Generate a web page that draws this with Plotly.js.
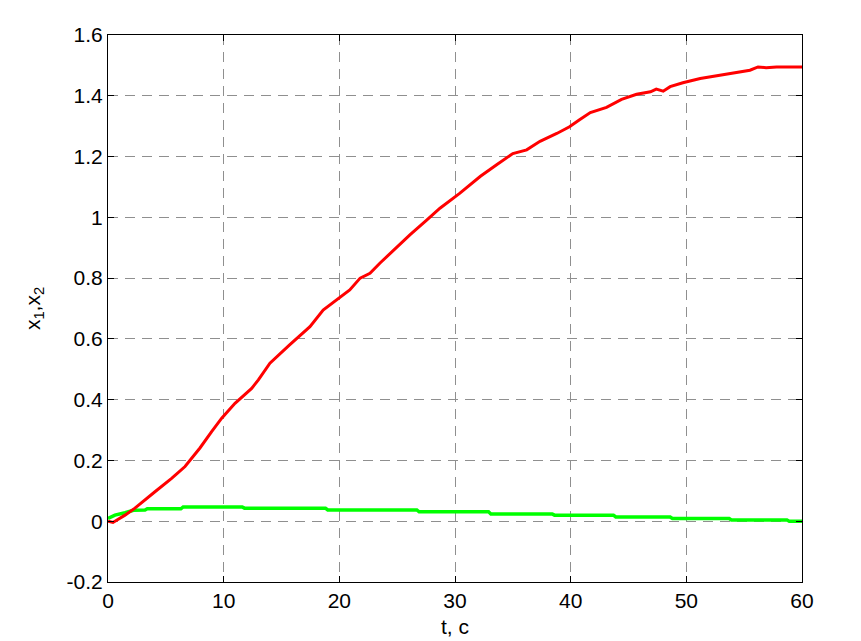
<!DOCTYPE html>
<html>
<head>
<meta charset="utf-8">
<script src="https://cdn.plot.ly/plotly-3.0.1.min.js"></script>
<style>html,body{margin:0;padding:0;background:#fff;}#chart{width:861px;height:641px;}</style>
</head>
<body>
<div id="chart"></div>
<script>
// x1 (red) samples
const tX1 = [0, 0.43, 1.47, 2.33, 4.06, 5.5, 6.66, 7.95, 8.96, 9.83, 10.98, 12.42, 13.0, 14.0, 15.7, 17.46, 18.6, 19.77, 20.9, 21.8, 22.65, 23.5, 24.96, 26.1, 27.55, 28.7, 30.4, 32.2, 33.6, 35.0, 36.2, 37.35, 38.8, 39.9, 40.8, 41.7, 43.1, 44.4, 45.7, 46.9, 47.4, 48.0, 48.6, 49.7, 51.2, 52.6, 54.0, 55.5, 56.2, 56.9, 57.8, 59.0, 60.0];
const x1 = [0.0, -0.004, 0.02, 0.043, 0.097, 0.141, 0.18, 0.241, 0.295, 0.339, 0.388, 0.437, 0.465, 0.52, 0.58, 0.64, 0.695, 0.728, 0.761, 0.8, 0.816, 0.849, 0.903, 0.942, 0.991, 1.03, 1.079, 1.135, 1.173, 1.21, 1.222, 1.25, 1.276, 1.298, 1.322, 1.345, 1.362, 1.388, 1.405, 1.413, 1.422, 1.415, 1.43, 1.443, 1.457, 1.465, 1.473, 1.484, 1.495, 1.492, 1.495, 1.495, 1.495];
// x2 (green) samples, step-like
const tX2 = [0, 0.6, 1.47, 2.2, 3.2, 3.4, 6.3, 6.5, 11.6, 11.8, 18.8, 19.0, 26.7, 26.9, 32.9, 33.1, 38.4, 38.6, 43.7, 43.9, 48.6, 48.8, 53.7, 53.9, 58.7, 58.9, 60];
const x2 = [0.009, 0.02, 0.028, 0.036, 0.037, 0.041, 0.041, 0.047, 0.047, 0.043, 0.043, 0.037, 0.037, 0.031, 0.031, 0.024, 0.024, 0.02, 0.02, 0.014, 0.014, 0.009, 0.009, 0.004, 0.004, 0.0, 0.0];

const xTicks = [0, 10, 20, 30, 40, 50, 60];
const yTicks = [-0.2, 0, 0.2, 0.4, 0.6, 0.8, 1, 1.2, 1.4, 1.6];
const yTickText = ['-0.2', '0', '0.2', '0.4', '0.6', '0.8', '1', '1.2', '1.4', '1.6'];

const traces = [
  {x: tX2, y: x2, mode: 'lines', line: {color: '#00ff00', width: 3.5}, hoverinfo: 'skip'},
  {x: tX1, y: x1, mode: 'lines', line: {color: '#ff0000', width: 3}, hoverinfo: 'skip'}
];

const font = {family: 'Liberation Sans, Arial, sans-serif', size: 21, color: '#000'};
const layout = {
  width: 861, height: 641,
  margin: {l: 108, r: 59, t: 35, b: 59, pad: 0},
  paper_bgcolor: '#fff', plot_bgcolor: '#fff',
  showlegend: false,
  font: font,
  xaxis: {
    range: [0, 60], tickvals: xTicks, ticktext: xTicks.map(String),
    showline: true, linecolor: '#000', linewidth: 1, mirror: 'ticks',
    ticks: 'inside', ticklen: 6, tickcolor: '#000',
    showgrid: true, gridcolor: '#8f8f8f', griddash: '10px,7px', gridwidth: 1,
    zeroline: false, tickfont: font, automargin: false,
    title: {text: 't, c', font: font, standoff: 8}
  },
  yaxis: {
    range: [-0.2, 1.6], tickvals: yTicks, ticktext: yTickText,
    showline: true, linecolor: '#000', linewidth: 1, mirror: 'ticks',
    ticks: 'inside', ticklen: 6, tickcolor: '#000',
    showgrid: true, gridcolor: '#8f8f8f', griddash: '10px,7px', gridwidth: 1,
    zeroline: false, tickfont: font, automargin: false,
    title: {text: 'x<sub>1</sub>,x<sub>2</sub>', font: font, standoff: 20}
  }
};
Plotly.newPlot('chart', traces, layout, {staticPlot: true, displayModeBar: false});
</script>
</body>
</html>
